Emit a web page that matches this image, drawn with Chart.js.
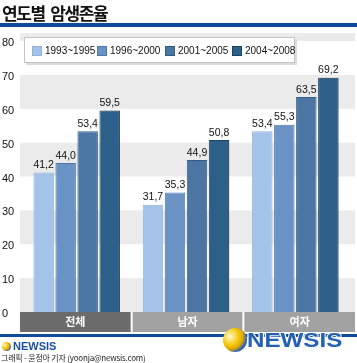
<!DOCTYPE html>
<html><head><meta charset="utf-8">
<script src="https://cdn.jsdelivr.net/npm/chart.js@4/dist/chart.umd.min.js"></script>
<style>
html,body{margin:0;padding:0;background:#fff;}
#wrap{position:relative;width:357px;height:363px;overflow:hidden;}
canvas{position:absolute;left:0;top:0;}
.abs{position:absolute;}
#title{left:2px;top:1px;font:bold 17px "Noto Sans CJK KR",sans-serif;color:#111;line-height:24px;white-space:nowrap;letter-spacing:-1.4px;word-spacing:3px;}
#topline{left:0;top:23px;width:357px;height:4px;background:#0d4b9c;}
#legend{left:24px;top:37px;width:269px;height:24px;background:#fff;border:1px solid #c4c4c4;box-shadow:2px 2px 0 #dcdcdc;}
.li{position:absolute;top:7px;font:10px "Liberation Sans",Arial,sans-serif;color:#111;line-height:11px;white-space:nowrap;}
.sw{display:inline-block;width:8px;height:8px;vertical-align:top;margin-right:3px;margin-top:1px;}
#botline{left:0;top:334px;width:357px;height:3px;background:#0d4b9c;}
#smalllogo{left:2px;top:340px;font:bold 11px "Liberation Sans",Arial,sans-serif;color:#1a4f9e;line-height:13px;white-space:nowrap;}
.orb{display:inline-block;border-radius:50%;background:radial-gradient(circle at 30% 35%,#fffbd0 0%,#f5c400 40%,#e0a800 55%,#2c64b8 72%,#1d4f9e 100%);}
#credit{left:1px;top:353px;font:8px "Noto Sans CJK KR",sans-serif;color:#222;line-height:10px;white-space:nowrap;letter-spacing:-0.2px;}
#bigorb{left:223px;top:328px;width:24px;height:24px;}
#bigtext{left:247px;top:329px;font:bold 21px "Liberation Sans",Arial,sans-serif;color:#2460b4;line-height:21px;transform-origin:left top;transform:scaleX(1.15);text-shadow:-1px 0 #fff,1px 0 #fff,0 -1px #fff,0 1px #fff;white-space:nowrap;}
</style></head>
<body><div id="wrap">
<canvas id="c" width="357" height="363"></canvas>
<div id="title" class="abs">연도별 암생존율</div>
<div id="topline" class="abs"></div>
<div id="legend" class="abs"></div>
<div id="botline" class="abs"></div>
<div id="bigorb" class="abs orb"></div>
<div id="bigtext" class="abs">NEWSIS</div>
<div id="smalllogo" class="abs"><span class="orb" style="width:9px;height:9px;vertical-align:-1px;margin-right:2px"></span>NEWSIS</div>
<div id="credit" class="abs">그래픽 - 윤정아 기자 (yoonja@newsis.com)</div>
</div>
<script>
const categories = ['전체', '남자', '여자'];
const seriesLabels = ['1993~1995', '1996~2000', '2001~2005', '2004~2008'];
const s1993 = [41.2, 31.7, 53.4];
const s1996 = [44.0, 35.3, 55.3];
const s2001 = [53.4, 44.9, 63.5];
const s2004 = [59.5, 50.8, 69.2];
const yTicks = [0, 10, 20, 30, 40, 50, 60, 70, 80];

const fills = ['#a4c3e8', '#6a92c5', '#4b76a4', '#2d6089'];
const borders = ['#8fb0d8', '#5078aa', '#355c88', '#1c4262'];
const stripColors = ['#6c6c6c', '#a2a2a2', '#a2a2a2'];

// legend
const legendPos = [7, 72, 140, 207];
const lg = document.getElementById('legend');
seriesLabels.forEach((t, i) => {
  const d = document.createElement('div');
  d.className = 'li';
  d.style.left = legendPos[i] + 'px';
  d.innerHTML = '<span class="sw" style="background:' + fills[i] + ';border:1px solid ' + borders[i] + '"></span>' + t;
  lg.appendChild(d);
});

const allSeries = [s1993, s1996, s2001, s2004];

const bgPlugin = {
  id: 'bg',
  beforeDatasetsDraw(chart) {
    const { ctx, chartArea: a, scales: { y } } = chart;
    const L = a.left - 2, R = a.right + 5;
    ctx.save();
    ctx.fillStyle = '#ebebeb';
    for (let i = 0; i < yTicks.length; i++) {
      if (i % 2 !== 0) continue;
      const v0 = yTicks[i];
      const v1 = i + 1 < yTicks.length ? yTicks[i + 1] : y.max;
      const p0 = y.getPixelForValue(v0), p1 = y.getPixelForValue(v1);
      ctx.fillRect(L, p1, R - L, p0 - p1);
    }
    ctx.restore();
  },
  beforeDatasetDraw(chart, args) {
    if (args.index === 3) {
      const ctx = chart.ctx;
      ctx.save();
      ctx.shadowColor = 'rgba(0,0,0,0.22)';
      ctx.shadowOffsetX = 3;
      ctx.shadowOffsetY = 0;
      ctx.shadowBlur = 0;
    }
  },
  afterDatasetDraw(chart, args) {
    if (args.index === 3) chart.ctx.restore();
  },
  afterDatasetsDraw(chart) {
    const { ctx, chartArea: a } = chart;
    ctx.save();
    // value labels
    ctx.fillStyle = '#111';
    ctx.font = '10.5px "Liberation Sans", Arial, sans-serif';
    ctx.textAlign = 'center';
    ctx.textBaseline = 'bottom';
    chart.data.datasets.forEach((ds, di) => {
      const meta = chart.getDatasetMeta(di);
      meta.data.forEach((bar, j) => {
        const t = ds.data[j].toFixed(1).replace('.', ',');
        ctx.fillText(t, bar.x, bar.y - 2);
      });
    });
    // category strip
    const L = a.left - 2, R = a.right + 5;
    const w = (R - L) / categories.length;
    const top = a.bottom, h = 20;
    categories.forEach((c, i) => {
      ctx.fillStyle = stripColors[i];
      const x0 = L + i * w + (i > 0 ? 1 : 0);
      const x1 = L + (i + 1) * w - (i < categories.length - 1 ? 1 : 0);
      ctx.fillRect(x0, top, x1 - x0, h);
      ctx.fillStyle = '#fff';
      ctx.font = 'bold 11px "Noto Sans CJK KR", sans-serif';
      ctx.textAlign = 'center';
      ctx.textBaseline = 'middle';
      ctx.fillText(chart.data.labels[i], (x0 + x1) / 2, top + h / 2);
    });
    ctx.restore();
  }
};

new Chart(document.getElementById('c'), {
  type: 'bar',
  data: {
    labels: categories,
    datasets: allSeries.map((d, i) => ({
      label: seriesLabels[i],
      data: d,
      backgroundColor: fills[i],
      borderColor: borders[i],
      borderWidth: 1,
      categoryPercentage: 0.805,
      barPercentage: 0.93
    }))
  },
  options: {
    responsive: false,
    animation: false,
    devicePixelRatio: 1,
    layout: { padding: { top: 33, bottom: 51, left: 2, right: 7 } },
    plugins: { legend: { display: false }, tooltip: { enabled: false } },
    scales: {
      x: { display: false },
      y: {
        min: 0,
        max: 82.4,
        afterBuildTicks(scale) { scale.ticks = yTicks.map(v => ({ value: v })); },
        afterFit(scale) { scale.width = 20; },
        grid: { display: false },
        border: { display: false },
        ticks: {
          crossAlign: 'far',
          padding: 0,
          labelOffset: 2,
          color: '#111',
          font: { family: '"Liberation Sans", Arial, sans-serif', size: 11 }
        }
      }
    }
  },
  plugins: [bgPlugin]
});
</script>
</body></html>
